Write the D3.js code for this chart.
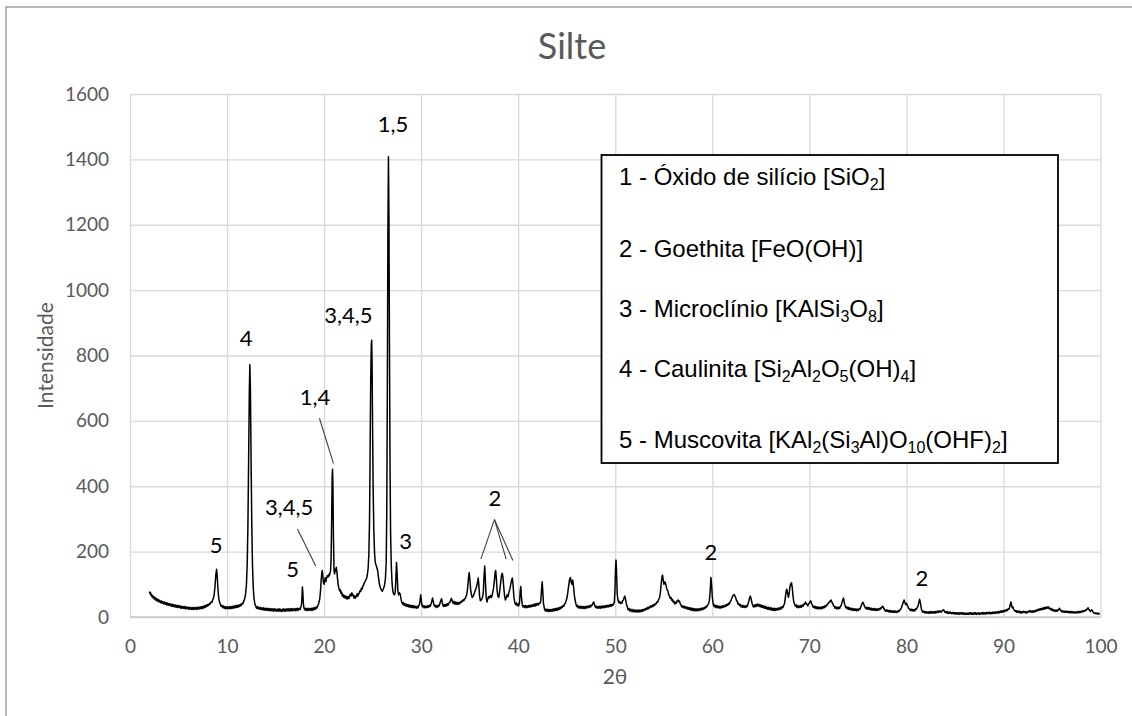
<!DOCTYPE html>
<html>
<head>
<meta charset="utf-8">
<script src="https://cdn.jsdelivr.net/npm/d3@7"></script>
<style>
  html, body { margin: 0; padding: 0; background: #ffffff; }
  svg { display: block; }
</style>
</head>
<body>
<svg id="chart" width="1132" height="716"></svg>
<script>
// ---- texts and ticks ----
const chartTitle = "Silte";
const xTitle = "2θ";
const yTitle = "Intensidade";
const xTicks = [0, 10, 20, 30, 40, 50, 60, 70, 80, 90, 100];
const yTicks = [0, 200, 400, 600, 800, 1000, 1200, 1400, 1600];

// ---- diffractogram: [2θ (deg), intensity (counts)] ----
const scanLow = [
  [2.0,78],[2.05,72],[2.1,75],[2.16,66],[2.22,69],[2.28,61],[2.34,65],[2.4,58],[2.46,62],[2.52,55],
  [2.58,60],[2.64,52],[2.7,57],[2.76,50],[2.82,55],[2.88,48],[2.94,53],[3.0,46],[3.08,51],[3.16,44],
  [3.24,49],[3.32,42],[3.4,47],[3.48,40],[3.56,46],[3.64,39],[3.72,44],[3.8,37],[3.88,43],[3.96,36],
  [4.04,41],[4.12,35],[4.2,40],[4.28,33],[4.36,39],[4.44,32],[4.52,38],[4.6,31],[4.68,37],[4.76,30],
  [4.84,36],[4.92,29],[5.0,35],[5.08,29],[5.16,34],[5.24,27],[5.32,33],[5.4,27],[5.48,32],[5.56,26],
  [5.64,32],[5.72,25],[5.8,31],[5.88,25],[5.96,30],[6.04,24],[6.12,30],[6.2,24],[6.28,29],[6.36,23],
  [6.44,29],[6.52,23],[6.6,29],[6.68,24],[6.76,29],[6.84,23],[6.92,30],[7.0,24],[7.08,30],[7.16,25],
  [7.24,31],[7.32,25],[7.4,32],[7.48,26],[7.56,33],[7.64,28],[7.72,35],[7.8,30],[7.88,37],[7.96,33],
  [8.04,39],[8.12,36],[8.2,42],[8.28,40],[8.36,46],[8.44,45],[8.52,52],[8.6,58],[8.68,70],[8.76,95],
  [8.84,128],[8.92,146],[8.98,128],[9.05,92],[9.12,64],[9.2,48],[9.3,40],[9.38,33],[9.46,36],[9.54,29],
  [9.62,34],[9.7,27],[9.78,32],[9.86,25],[9.94,31],[10.02,25],[10.1,31],[10.18,25],[10.26,32],[10.34,26],
  [10.42,32],[10.5,26],[10.58,33],[10.66,27],[10.74,34],[10.82,28],[10.9,35],[10.98,29],[11.06,36],[11.14,30],
  [11.22,37],[11.3,32],[11.38,39],[11.46,35],[11.54,42],[11.62,40],[11.7,47],[11.8,54],[11.9,68],[12.0,100],
  [12.08,165],[12.15,280],[12.22,470],[12.29,680],[12.35,772],[12.41,690],[12.48,470],[12.55,280],[12.62,160],[12.7,90],
  [12.78,56],[12.87,40],[12.96,33],[13.04,27],[13.12,32],[13.2,25],[13.28,30],[13.36,24],[13.44,29],[13.52,23],
  [13.6,28],[13.68,22],[13.76,28],[13.84,21],[13.92,27],[14.0,21],[14.08,27],[14.16,20],[14.24,26],[14.32,20],
  [14.4,26],[14.48,19],[14.56,25],[14.64,19],[14.72,25],[14.8,18],[14.88,25],[14.96,19],[15.04,24],[15.12,18],
  [15.2,24],[15.28,18],[15.36,25],[15.44,18],[15.52,24],[15.6,17],[15.68,24],[15.76,18],[15.84,25],[15.92,18],
  [16.0,24],[16.08,18],[16.16,25],[16.24,19],[16.32,25],[16.4,18],[16.48,25],[16.56,19],[16.64,26],[16.72,19],
  [16.8,25],[16.88,20],[16.96,26],[17.04,19],[17.12,26],[17.2,20],[17.28,27],[17.36,21],[17.44,27],[17.52,23],
  [17.6,30],[17.66,36],[17.71,55],[17.76,92],[17.81,76],[17.86,42],[17.92,28],[18.0,22],[18.08,27],[18.16,20],
  [18.24,26],[18.32,20],[18.4,27],[18.48,21],[18.56,26],[18.64,20],[18.72,27],[18.8,21],[18.88,28],[18.96,22],
  [19.04,29],[19.12,24],[19.2,31],[19.28,28],[19.36,35],[19.45,42]
];
const scanMain = [
  [19.55,55],[19.63,80],[19.7,112],[19.76,135],[19.81,142],[19.87,125],[19.93,106],[20.0,100],[20.06,112],[20.12,120],
  [20.18,108],[20.25,118],[20.32,126],[20.4,122],[20.47,130],[20.54,126],[20.6,134],[20.66,140],[20.72,175],[20.78,300],
  [20.83,430],[20.87,452],[20.91,400],[20.96,250],[21.02,145],[21.08,132],[21.14,146],[21.2,140],[21.26,152],[21.32,138],
  [21.38,118],[21.45,100],[21.52,88],[21.6,80],[21.67,84],[21.74,72],[21.81,76],[21.88,64],[21.95,69],[22.02,60],
  [22.09,66],[22.16,58],[22.23,64],[22.3,56],[22.37,63],[22.44,55],[22.51,62],[22.58,57],[22.65,67],[22.72,70],
  [22.79,64],[22.86,74],[22.93,66],[23.0,68],[23.07,58],[23.14,64],[23.21,57],[23.28,65],[23.35,62],[23.42,72],
  [23.49,64],[23.56,70],[23.63,74],[23.7,80],[23.77,78],[23.84,88],[23.91,85],[23.98,94],[24.06,98],[24.14,104],
  [24.22,108],[24.3,114],[24.38,118],[24.46,130],[24.54,150],[24.61,190],[24.68,290],[24.74,500],[24.8,720],[24.86,830],
  [24.9,847],[24.94,790],[24.99,600],[25.05,400],[25.12,270],[25.2,195],[25.28,166],[25.36,158],[25.44,150],[25.52,142],
  [25.6,122],[25.68,104],[25.76,94],[25.84,86],[25.92,82],[26.0,79],[26.08,84],[26.16,90],[26.24,100],[26.32,118],
  [26.4,170],[26.46,330],[26.52,720],[26.57,1150],[26.63,1408],[26.68,1230],[26.73,860],[26.79,480],[26.85,260],[26.92,160],
  [27.0,105],[27.07,82],[27.15,72],[27.24,68],[27.33,76],[27.4,120],[27.46,167],[27.52,135],[27.6,80],[27.68,68],
  [27.76,74],[27.84,70],[27.92,56],[28.0,46],[28.08,40],[28.16,44],[28.24,36],[28.32,41],[28.4,34],[28.48,39],
  [28.56,32],[28.64,38],[28.72,31],[28.8,37],[28.88,30],[28.96,36],[29.04,29],[29.12,35],[29.2,28],[29.28,34],
  [29.36,28],[29.44,33],[29.52,27],[29.6,33],[29.68,28],[29.76,35],[29.84,40],[29.9,55],[29.95,68],[30.01,54],
  [30.07,38]
];
const scanMid = [
  [30.14,31],[30.22,35],[30.3,28],[30.38,34],[30.46,28],[30.54,33],[30.62,29],[30.7,35],[30.78,30],[30.86,36],
  [30.94,33],[31.02,40],[31.1,48],[31.17,58],[31.24,50],[31.31,38],[31.38,33],[31.46,36],[31.54,29],[31.62,35],
  [31.7,30],[31.78,36],[31.86,34],[31.94,42],[32.02,50],[32.1,56],[32.17,45],[32.24,36],[32.32,32],[32.4,38],
  [32.48,33],[32.56,39],[32.64,34],[32.72,41],[32.8,37],[32.88,44],[32.96,45],[33.04,52],[33.12,57],[33.2,48],
  [33.28,42],[33.36,48],[33.44,40],[33.52,46],[33.6,39],[33.68,45],[33.76,38],[33.84,44],[33.92,40],[34.0,46],
  [34.08,43],[34.16,49],[34.24,47],[34.32,53],[34.4,50],[34.48,56],[34.56,57],[34.64,64],[34.72,72],[34.8,92],
  [34.88,120],[34.95,136],[35.02,115],[35.1,84],[35.18,68],[35.27,60],[35.36,64],[35.45,70],[35.54,78],[35.63,86],
  [35.72,94],[35.8,105],[35.88,119],[35.95,96],[36.02,64],[36.1,50],[36.2,52],[36.3,58],[36.4,72],[36.48,125],
  [36.55,156],[36.62,112],[36.7,60],[36.78,46],[36.86,55],[36.95,63],[37.05,58],[37.15,66],[37.25,60],[37.35,72],
  [37.45,86],[37.55,112],[37.62,136],[37.68,142],[37.75,118],[37.82,84],[37.9,64],[38.0,60],[38.08,76],[38.18,102],
  [38.28,126],[38.36,134],[38.44,120],[38.52,88],[38.6,64],[38.68,52],[38.76,58],[38.85,68],[38.95,62],[39.05,76],
  [39.15,86],[39.25,102],[39.33,114],[39.4,119],[39.48,94],[39.56,60],[39.65,44],[39.73,38],[39.81,43],[39.89,35],
  [39.97,40],[40.05,34],[40.14,46],[40.21,80],[40.27,93],[40.33,62],[40.42,37],[40.5,31],[40.58,35],[40.66,29],
  [40.74,35],[40.82,28],[40.9,34],[40.98,29],[41.06,35],[41.14,30],[41.22,36],[41.3,31],[41.38,37],[41.46,32],
  [41.54,38],[41.62,33],[41.7,40],[41.78,34],[41.86,41],[41.94,36],[42.02,42],[42.1,37],[42.18,43],[42.26,42],
  [42.33,50],[42.4,82],[42.47,108],[42.53,82],[42.6,42],[42.7,26],[42.78,19],[42.86,24],[42.94,18],[43.02,24],
  [43.1,17],[43.18,23],[43.26,17],[43.34,23],[43.42,18],[43.5,24],[43.58,18],[43.66,25],[43.74,19],[43.82,26],
  [43.9,20],[43.98,27],[44.06,21],[44.14,28],[44.22,23],[44.3,30],[44.38,25],[44.46,32],[44.54,29],[44.62,35],
  [44.7,33],[44.78,40],[44.86,42],[44.94,50],[45.02,58],[45.1,72],[45.2,96],[45.3,116],[45.38,121],[45.46,106],
  [45.54,100],[45.62,113],[45.7,94],[45.78,68],[45.86,52],[45.95,40],[46.03,32],[46.11,36],[46.19,28],[46.27,33],
  [46.35,27],[46.43,33],[46.51,27],[46.59,32],[46.67,26],[46.75,32],[46.83,26],[46.91,32],[46.99,27],[47.07,33],
  [47.15,28],[47.23,34],[47.31,29],[47.39,35],[47.47,31],[47.55,37],[47.63,36],[47.71,43],[47.78,46],[47.85,40],
  [47.92,33],[48.0,29],[48.08,33],[48.16,27],[48.24,32],[48.32,27],[48.4,33],[48.48,27],[48.56,33],[48.64,28],
  [48.72,34],[48.8,28],[48.88,34],[48.96,29],[49.04,35],[49.12,30],[49.2,36],[49.28,31],[49.36,37],[49.44,32],
  [49.52,38],[49.6,33],[49.68,39],[49.76,36],[49.84,41],[49.91,46],[49.97,82],[50.03,150],[50.08,174],[50.13,140],
  [50.2,72],[50.28,52],[50.36,44],[50.44,48],[50.52,41],[50.6,45],[50.68,42],[50.76,50],[50.84,52],[50.92,60],
  [50.99,64],[51.06,55],[51.15,40],[51.25,30],[51.33,22],[51.41,26],[51.49,19],[51.57,24],[51.65,17],[51.73,23],
  [51.81,16],[51.89,22],[51.97,16],[52.05,21],[52.13,15],[52.21,21],[52.29,15],[52.37,21],[52.45,15],[52.53,21],
  [52.61,16],[52.69,22],[52.77,17],[52.85,23],[52.93,19],[53.01,25],[53.09,21],[53.17,27],[53.25,23],[53.33,29],
  [53.41,25],[53.49,31],[53.57,28],[53.65,34],[53.73,30],[53.81,36],[53.89,32],[53.97,38],[54.05,35],[54.13,41],
  [54.21,40],[54.29,46],[54.37,45],[54.45,52],[54.55,58],[54.65,74],[54.74,104],[54.82,124],[54.88,128],[54.95,110],
  [55.02,100],[55.1,108],[55.18,103],[55.26,92],[55.34,84],[55.42,80],[55.5,70],[55.58,64],[55.66,57],[55.74,60],
  [55.82,51],[55.9,54],[55.98,45],[56.06,48],[56.14,40],[56.22,45],[56.3,42],[56.38,50],[56.46,52],[56.54,47],
  [56.62,49],[56.7,40],[56.8,35],[56.88,30],[56.96,34],[57.04,28],[57.12,33],[57.2,27],[57.28,31],[57.36,25],
  [57.44,30],[57.52,24],[57.6,29],[57.68,22],[57.76,28],[57.84,21],[57.92,27],[58.0,20],[58.08,26],[58.16,19],
  [58.24,25],[58.32,19],[58.4,25],[58.48,19],[58.56,25],[58.64,20],[58.72,26],[58.8,21],[58.88,27],[58.96,22],
  [59.04,28],[59.12,24],[59.2,30],[59.28,27],[59.36,33],[59.44,31],[59.52,36],[59.6,40],[59.7,50],[59.78,78],
  [59.86,121],[59.93,98],[60.0,62]
];
const scanHigh = [
  [60.08,42],[60.16,33],[60.24,37],[60.32,29],[60.4,35],[60.48,28],[60.56,34],[60.64,28],[60.72,33],[60.8,27],
  [60.88,33],[60.96,28],[61.04,34],[61.12,29],[61.2,35],[61.28,31],[61.36,37],[61.44,33],[61.52,39],[61.6,36],
  [61.68,42],[61.76,40],[61.84,47],[61.92,50],[62.0,57],[62.08,62],[62.16,66],[62.24,69],[62.32,65],[62.4,60],
  [62.48,52],[62.56,48],[62.64,40],[62.72,42],[62.8,35],[62.88,38],[62.96,31],[63.04,36],[63.12,30],[63.2,35],
  [63.28,29],[63.36,34],[63.44,29],[63.52,35],[63.6,32],[63.68,40],[63.76,48],[63.84,58],[63.92,64],[64.0,56],
  [64.08,44],[64.16,36],[64.24,31],[64.32,37],[64.4,31],[64.48,38],[64.56,33],[64.64,40],[64.72,34],[64.8,39],
  [64.88,32],[64.96,37],[65.04,30],[65.12,36],[65.2,29],[65.28,34],[65.36,27],[65.44,33],[65.52,26],[65.6,31],
  [65.68,24],[65.76,30],[65.84,23],[65.92,29],[66.0,22],[66.08,28],[66.16,21],[66.24,27],[66.32,20],[66.4,27],
  [66.48,20],[66.56,26],[66.64,21],[66.72,27],[66.8,22],[66.88,28],[66.96,23],[67.04,30],[67.12,25],[67.2,32],
  [67.28,29],[67.36,36],[67.44,40],[67.52,58],[67.6,78],[67.68,85],[67.76,72],[67.84,60],[67.92,72],[68.0,92],
  [68.08,102],[68.16,105],[68.24,90],[68.32,62],[68.4,46],[68.48,40],[68.56,33],[68.64,37],[68.72,29],[68.8,35],
  [68.88,28],[68.96,34],[69.04,29],[69.12,35],[69.2,30],[69.28,37],[69.36,33],[69.44,40],[69.52,39],[69.6,46],
  [69.68,41],[69.76,38],[69.84,34],[69.92,41],[70.0,42],[70.08,48],[70.16,49],[70.24,40],[70.32,36],[70.4,30],
  [70.48,33],[70.56,27],[70.64,32],[70.72,26],[70.8,31],[70.88,25],[70.96,30],[71.04,25],[71.12,30],[71.2,25],
  [71.28,31],[71.36,26],[71.44,32],[71.52,28],[71.6,34],[71.68,31],[71.76,37],[71.84,36],[71.92,42],[72.0,42],
  [72.08,48],[72.16,47],[72.24,52],[72.32,45],[72.4,42],[72.48,35],[72.56,33],[72.64,27],[72.72,31],[72.8,25],
  [72.88,30],[72.96,25],[73.04,30],[73.12,26],[73.2,33],[73.28,35],[73.36,44],[73.44,52],[73.52,58],[73.6,44],
  [73.68,35],[73.76,28],[73.84,31],[73.92,25],[74.0,30],[74.08,23],[74.16,28],[74.24,22],[74.32,27],[74.4,21],
  [74.48,26],[74.56,20],[74.64,25],[74.72,20],[74.8,25],[74.88,19],[74.96,24],[75.04,20],[75.12,25],[75.2,23],
  [75.28,30],[75.36,35],[75.44,42],[75.52,45],[75.6,40],[75.68,33],[75.76,29],[75.84,25],[75.92,30],[76.0,24],
  [76.08,29],[76.16,23],[76.24,28],[76.32,22],[76.4,27],[76.48,21],[76.56,26],[76.64,21],[76.72,26],[76.8,20],
  [76.88,25],[76.96,20],[77.04,25],[77.12,21],[77.2,26],[77.28,23],[77.36,28],[77.44,27],[77.52,33],[77.6,31],
  [77.68,26],[77.76,22],[77.84,18],[77.92,22],[78.0,17],[78.08,21],[78.16,16],[78.24,20],[78.32,15],[78.4,20],
  [78.48,15],[78.56,19],[78.64,14],[78.72,19],[78.8,14],[78.88,18],[78.96,14],[79.04,18],[79.12,15],[79.2,20],
  [79.28,18],[79.36,23],[79.44,25],[79.52,31],[79.6,38],[79.68,46],[79.76,52],[79.84,45],[79.92,38],[80.0,42],
  [80.08,36],[80.16,32],[80.24,26],[80.32,25],[80.4,20],[80.48,24],[80.56,19],[80.64,23],[80.72,18],[80.8,23],
  [80.88,19],[80.96,25],[81.04,24],[81.12,30],[81.2,33],[81.28,45],[81.36,54],[81.44,44],[81.52,28],[81.6,20],
  [81.68,15],[81.76,18],[81.84,13],[81.92,17],[82.0,12],[82.08,16],[82.16,12],[82.24,16],[82.32,11],[82.4,16],
  [82.48,12],[82.56,17],[82.64,12],[82.72,16],[82.8,12],[82.88,17],[82.96,12],[83.04,17],[83.12,13],[83.2,18],
  [83.28,14],[83.36,19],[83.44,15],[83.52,18],[83.6,15],[83.68,19],[83.76,21],[83.84,22],[83.92,17],[84.0,14],
  [84.08,17],[84.16,12],[84.24,16],[84.32,11],[84.4,15],[84.48,11],[84.56,15],[84.64,10],[84.72,14],[84.8,10],
  [84.88,14],[84.96,9],[85.04,13],[85.12,9],[85.2,13],[85.28,9],[85.36,13],[85.44,8],[85.52,13],[85.6,9],
  [85.68,13],[85.76,9],[85.84,13],[85.92,8],[86.0,12],[86.08,8],[86.16,12],[86.24,8],[86.32,12],[86.4,8],
  [86.48,13],[86.56,9],[86.64,13],[86.72,8],[86.8,12],[86.88,8],[86.96,13],[87.04,9],[87.12,13],[87.2,8],
  [87.28,12],[87.36,9],[87.44,13],[87.52,8],[87.6,12],[87.68,9],[87.76,13],[87.84,9],[87.92,14],[88.0,9],
  [88.08,13],[88.16,9],[88.24,14],[88.32,10],[88.4,14],[88.48,10],[88.56,15],[88.64,10],[88.72,14],[88.8,10],
  [88.88,15],[88.96,11],[89.04,15],[89.12,11],[89.2,16],[89.28,12],[89.36,16],[89.44,12],[89.52,17],[89.6,13],
  [89.68,18],[89.76,14],[89.84,19],[89.92,15],[90.0,20],[90.08,16],[90.16,21],[90.24,18],[90.32,23],[90.4,20],
  [90.48,25],[90.56,24],[90.64,30],[90.71,40],[90.77,46],[90.84,36],[90.9,28],[90.97,31],[91.04,25],[91.12,21],
  [91.2,17],[91.28,20],[91.36,15],[91.44,19],[91.52,14],[91.6,18],[91.68,13],[91.76,17],[91.84,12],[91.92,16],
  [92.0,13],[92.08,18],[92.16,14],[92.24,17],[92.32,12],[92.4,16],[92.48,13],[92.56,18],[92.64,16],[92.72,20],
  [92.8,15],[92.88,18],[92.96,14],[93.04,19],[93.12,15],[93.2,20],[93.28,16],[93.36,21],[93.44,18],[93.52,23],
  [93.6,20],[93.68,25],[93.76,21],[93.84,26],[93.92,22],[94.0,27],[94.08,23],[94.16,29],[94.24,24],[94.32,30],
  [94.4,26],[94.48,31],[94.56,27],[94.64,31],[94.72,25],[94.8,27],[94.88,22],[94.96,26],[95.04,20],[95.12,23],
  [95.2,18],[95.28,22],[95.36,17],[95.44,21],[95.52,17],[95.6,22],[95.68,21],[95.76,27],[95.84,23],[95.92,20],
  [96.0,16],[96.08,19],[96.16,15],[96.24,18],[96.32,14],[96.4,18],[96.48,14],[96.56,18],[96.64,14],[96.72,17],
  [96.8,13],[96.88,17],[96.96,13],[97.04,17],[97.12,13],[97.2,16],[97.28,12],[97.36,16],[97.44,12],[97.52,16],
  [97.6,13],[97.68,17],[97.76,13],[97.84,17],[97.92,14],[98.0,18],[98.08,15],[98.16,19],[98.24,16],[98.32,20],
  [98.4,18],[98.48,22],[98.56,21],[98.64,26],[98.72,28],[98.8,23],[98.88,20],[98.96,17],[99.04,21],[99.12,22],
  [99.2,17],[99.28,14],[99.36,11],[99.44,13],[99.52,10],[99.6,12],[99.68,9],[99.76,12],[99.84,9],[99.92,11]
];

// ---- phase annotations: label text placed at (2θ, intensity level of its baseline) ----
const peakLabels = [
  { text: "5",     angle: 8.87,  level: 196 },
  { text: "4",     angle: 11.96, level: 829 },
  { text: "3,4,5", angle: 16.4,  level: 312 },
  { text: "5",     angle: 16.75, level: 122 },
  { text: "1,4",   angle: 19.07, level: 648 },
  { text: "3,4,5", angle: 22.5,  level: 899 },
  { text: "1,5",   angle: 27.1,  level: 1485 },
  { text: "3",     angle: 28.4,  level: 208 },
  { text: "2",     angle: 37.6,  level: 340 },
  { text: "2",     angle: 59.85, level: 174 },
  { text: "2",     angle: 81.6,  level: 95 }
];
// leader lines from a label toward its peak: [[2θ, level], [2θ, level]]
const leaderLines = [
  [[19.52, 608], [20.96, 470]],
  [[17.25, 269], [19.14, 156]],
  [[37.55, 298], [36.15, 177]],
  [[37.55, 298], [38.76, 177]],
  [[37.55, 298], [39.45, 173]]
];

// ---- legend lines (text inside _{ } is a subscript) ----
const phaseNames = [
  "1 - Óxido de silício [SiO_{2}]",
  "2 - Goethita [FeO(OH)]",
  "3 - Microclínio [KAlSi_{3}O_{8}]",
  "4 - Caulinita [Si_{2}Al_{2}O_{5}(OH)_{4}]",
  "5 - Muscovita [KAl_{2}(Si_{3}Al)O_{10}(OHF)_{2}]"
];
const phaseRowBaselines = [185, 257, 317, 377, 448];

// ---- drawing ----
const svg = d3.select("#chart");
const W = 1132, H = 716;
const axisFont = "Lato, 'Open Sans', sans-serif";
const grey = "#595959";

const x = d3.scaleLinear().domain([0, 100]).range([130, 1100.5]);
const y = d3.scaleLinear().domain([0, 1600]).range([617, 94]);

svg.append("rect").attr("width", W).attr("height", H).attr("fill", "#fff");

// chart area frame (right and bottom edges fall outside the page)
svg.append("rect")
  .attr("x", 6).attr("y", 7).attr("width", 1200).attr("height", 800)
  .attr("fill", "none").attr("stroke", "#a6a6a6").attr("stroke-width", 1.6);

// title
svg.append("text")
  .attr("x", 572).attr("y", 59)
  .attr("text-anchor", "middle")
  .attr("font-family", axisFont).attr("font-size", 36)
  .attr("fill", grey)
  .text(chartTitle);

// gridlines
const grid = svg.append("g");
grid.append("g")
  .attr("transform", `translate(0,${y(0)})`)
  .call(d3.axisBottom(x).tickValues(xTicks).tickSize(-(y(0) - y(1600))).tickFormat(""))
  .call(g => g.select(".domain").remove())
  .call(g => g.selectAll("line").attr("stroke", "#d9d9d9").attr("stroke-width", 1.3));
grid.append("g")
  .attr("transform", `translate(${x(0)},0)`)
  .call(d3.axisLeft(y).tickValues(yTicks).tickSize(-(x(100) - x(0))).tickFormat(""))
  .call(g => g.select(".domain").remove())
  .call(g => g.selectAll("line").attr("stroke", "#d9d9d9").attr("stroke-width", 1.3));

// bottom axis line
svg.append("line")
  .attr("x1", x(0)).attr("x2", x(100)).attr("y1", y(0)).attr("y2", y(0))
  .attr("stroke", "#c8c8c8").attr("stroke-width", 1.3);

// tick labels
const xAxis = svg.append("g")
  .attr("transform", `translate(0,${y(0)})`)
  .call(d3.axisBottom(x).tickValues(xTicks).tickSize(0).tickPadding(23).tickFormat(d3.format("d")));
xAxis.select(".domain").remove();
xAxis.selectAll("text").attr("font-family", axisFont).attr("font-size", 19).attr("fill", grey);

const yAxis = svg.append("g")
  .attr("transform", `translate(${x(0)},0)`)
  .call(d3.axisLeft(y).tickValues(yTicks).tickSize(0).tickPadding(21).tickFormat(d3.format("d")));
yAxis.select(".domain").remove();
yAxis.selectAll("text").attr("font-family", axisFont).attr("font-size", 19).attr("fill", grey);

// axis titles
svg.append("text")
  .attr("x", 615).attr("y", 684)
  .attr("text-anchor", "middle")
  .attr("font-family", axisFont).attr("font-size", 21).attr("fill", grey)
  .text(xTitle);
svg.append("text")
  .attr("transform", `translate(53,${(y(0) + y(1600)) / 2}) rotate(-90)`)
  .attr("text-anchor", "middle")
  .attr("font-family", axisFont).attr("font-size", 21).attr("fill", grey)
  .text(yTitle);

// diffractogram trace
const scan = [].concat(scanLow, scanMain, scanMid, scanHigh);
const line = d3.line().x(d => x(d[0])).y(d => y(d[1]));
svg.append("path")
  .datum(scan)
  .attr("d", line)
  .attr("fill", "none")
  .attr("stroke", "#000")
  .attr("stroke-width", 1.5)
  .attr("stroke-linejoin", "round");

// leader lines
svg.append("g").selectAll("line")
  .data(leaderLines)
  .join("line")
  .attr("x1", d => x(d[0][0])).attr("y1", d => y(d[0][1]))
  .attr("x2", d => x(d[1][0])).attr("y2", d => y(d[1][1]))
  .attr("stroke", "#404040").attr("stroke-width", 1.1);

// peak labels
svg.append("g").selectAll("text")
  .data(peakLabels)
  .join("text")
  .attr("x", d => x(d.angle)).attr("y", d => y(d.level))
  .attr("text-anchor", "middle")
  .attr("font-family", axisFont).attr("font-size", 22).attr("fill", "#000")
  .text(d => d.text);

// legend box
const legend = svg.append("g");
legend.append("rect")
  .attr("x", 601.5).attr("y", 155).attr("width", 456.5).attr("height", 308)
  .attr("fill", "#fff").attr("stroke", "#000").attr("stroke-width", 1.8);

const legendFont = "'Liberation Sans', Arial, sans-serif";
phaseNames.forEach((name, i) => {
  const t = legend.append("text")
    .attr("x", 619).attr("y", phaseRowBaselines[i])
    .attr("font-family", legendFont).attr("font-size", 24).attr("fill", "#000");
  const parts = name.split(/(_\{[^}]*\})/).filter(s => s.length);
  let shifted = false;
  parts.forEach(p => {
    const isSub = p.startsWith("_{");
    const span = t.append("tspan").text(isSub ? p.slice(2, -1) : p);
    if (isSub) {
      span.attr("font-size", 16).attr("dy", shifted ? 0 : 5);
      shifted = true;
    } else {
      if (shifted) span.attr("dy", -5);
      shifted = false;
    }
  });
});
</script>
</body>
</html>
